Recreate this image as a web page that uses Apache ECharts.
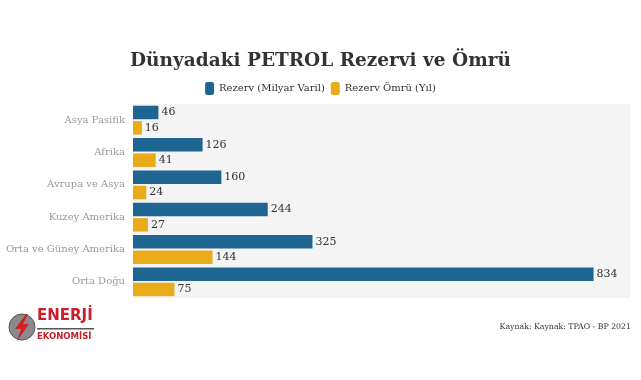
<!DOCTYPE html>
<html><head><meta charset="utf-8">
<script src="https://cdn.jsdelivr.net/npm/echarts@6/dist/echarts.min.js"></script>
<style>html,body{margin:0;padding:0;background:#fff}#c{width:641px;height:380px}</style>
</head><body><div id="c"></div>
<script>
var categories = ["Asya Pasifik","Afrika","Avrupa ve Asya","Kuzey Amerika","Orta ve Güney Amerika","Orta Doğu"];
var reserve = [46,126,160,244,325,834];
var lifetime = [16,41,24,27,144,75];
var seriesNames = ["Rezerv (Milyar Varil)","Rezerv Ömrü (Yıl)"];
var serif = "DejaVu Serif";
var chart = echarts.init(document.getElementById('c'));
chart.setOption({
  backgroundColor:'#fff',
  animation:false,
  title:{text:'Dünyadaki PETROL Rezervi ve Ömrü',left:'center',top:47,
    textStyle:{fontFamily:serif,fontWeight:'bold',fontSize:18.5,color:'#333'}},
  legend:{top:77,left:'center',itemWidth:9,itemHeight:13,itemGap:6,icon:'roundRect',
    textStyle:{fontFamily:serif,fontSize:10,color:'#333'},data:seriesNames},
  grid:{left:133,top:104,width:497,height:194,containLabel:false,
    show:true,backgroundColor:'#f4f4f4',borderWidth:0},
  xAxis:{type:'value',min:0,max:900,show:false,splitLine:{show:false}},
  yAxis:{type:'category',data:categories,inverse:true,
    axisLine:{show:false},axisTick:{show:false},
    axisLabel:{fontFamily:serif,fontSize:10,color:'#999',margin:8}},
  series:[
    {name:seriesNames[0],type:'bar',data:reserve,barWidth:13.5,barGap:'14%',
     itemStyle:{color:'#1f6592'},
     label:{show:true,position:'right',distance:3,fontFamily:serif,fontSize:11,color:'#333'}},
    {name:seriesNames[1],type:'bar',data:lifetime,barWidth:13.5,
     itemStyle:{color:'#e9ab18'},
     label:{show:true,position:'right',distance:3,fontFamily:serif,fontSize:11,color:'#333'}}
  ],
  graphic:[
    {type:'text',right:10,top:323,style:{text:'Kaynak: Kaynak: TPAO - BP 2021',fontFamily:serif,fontSize:7.8,fill:'#333'}},
    {type:'circle',shape:{cx:22,cy:327,r:13},style:{fill:'#8a8a8a',stroke:'#555',lineWidth:1}},
    {type:'polygon',shape:{points:[[26,314],[15,329],[21,329],[17,341],[29,324],[23,324],[28,314]]},style:{fill:'#d32027'}},
    {type:'text',left:37,top:309,style:{text:'ENERJİ',fontFamily:'DejaVu Sans',fontWeight:'bold',fontSize:15,fill:'#c8202a'}},
    {type:'rect',shape:{x:37,y:328,width:57,height:1.5},style:{fill:'#555'}},
    {type:'text',left:37,top:332,style:{text:'EKONOMİSİ',fontFamily:'DejaVu Sans',fontWeight:'bold',fontSize:8.5,fill:'#c8202a'}}
  ]
});
</script></body></html>
